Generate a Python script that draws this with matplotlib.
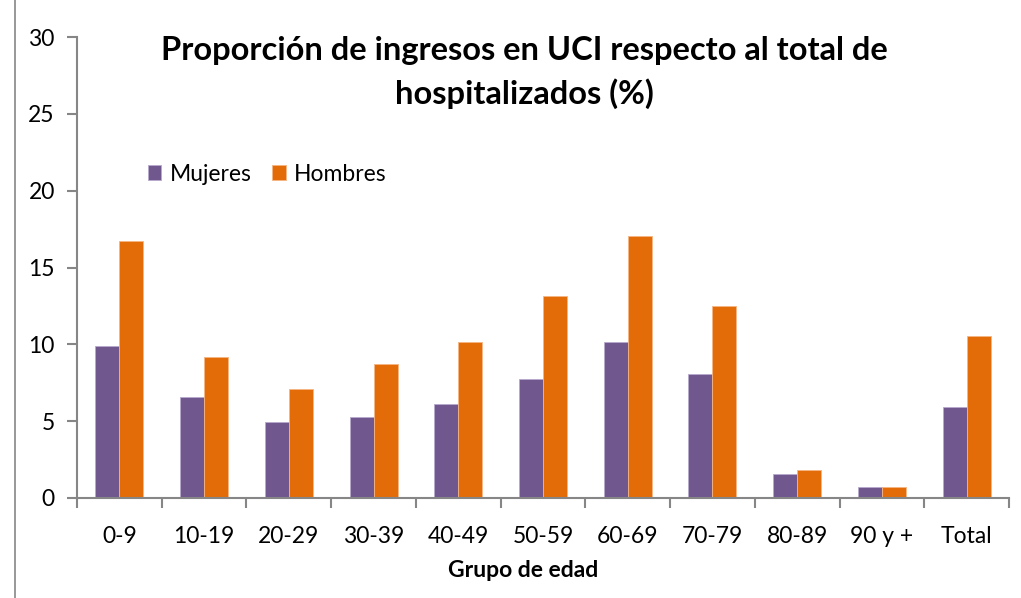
import matplotlib
matplotlib.use("Agg")
import matplotlib.pyplot as plt
import numpy as np
from matplotlib.lines import Line2D

categories = ["0-9", "10-19", "20-29", "30-39", "40-49", "50-59", "60-69", "70-79", "80-89", "90 y +", "Total"]
mujeres = [9.86, 6.59, 4.96, 5.27, 6.11, 7.74, 10.18, 8.06, 1.54, 0.71, 5.94]
hombres = [16.73, 9.19, 7.09, 8.71, 10.16, 13.13, 17.05, 12.48, 1.84, 0.71, 10.51]
yticks = [0, 5, 10, 15, 20, 25, 30]

plt.rcParams['font.family'] = ['Lato', 'DejaVu Sans']

fig = plt.figure(figsize=(10.21, 5.98), dpi=100)
ax = fig.add_axes([77/1021, 1-498/598, (1009-77)/1021, (498-37)/598])

x = np.arange(len(categories))
w = 0.283
purple = "#70588F"
orange = "#E36C09"
ax.bar(x - w/2, mujeres, w, color=purple, edgecolor="#B8A9CC", linewidth=0.6, label="Mujeres")
ax.bar(x + w/2, hombres, w, color=orange, edgecolor="#F5B583", linewidth=0.6, label="Hombres")

ax.set_xlim(-0.5, len(categories) - 0.5)
ax.set_ylim(0, 30)
ax.set_yticks(yticks)
ax.set_yticklabels([str(t) for t in yticks], fontsize=16.5)
ax.set_xticks(x)
ax.set_xticklabels(categories, fontsize=16.5)
ax.set_xticks(np.arange(-0.5, len(categories)), minor=True)
ax.tick_params(axis='x', which='major', length=0, pad=20)
ax.tick_params(axis='x', which='minor', length=7, width=1.5, color="#868686", direction='out')
ax.tick_params(axis='y', which='major', length=7, width=1.5, color="#868686", pad=9)

for s in ["top", "right"]:
    ax.spines[s].set_visible(False)
for s in ["left", "bottom"]:
    ax.spines[s].set_color("#868686")
    ax.spines[s].set_linewidth(1.5)

ax.set_xlabel("Grupo de edad", fontsize=16.5, fontweight='bold', labelpad=9)
ax.xaxis.set_label_coords((523.5 - 77) / 932, -0.135)
ax.xaxis.label.set_va('top')

fig.text(524/1021, 1-72.5/598, "Proporción de ingresos en UCI respecto al total de\nhospitalizados (%)",
         ha='center', va='center', fontsize=23.5, fontweight='bold', linespacing=1.52)

ax.legend(loc='upper left', bbox_to_anchor=(127/1021, 1-143/598), bbox_transform=fig.transFigure,
          ncol=2, frameon=False, fontsize=16.5, handlelength=0.6, handleheight=0.6,
          columnspacing=0.9, handletextpad=0.35)

fig.add_artist(Line2D([15/1021, 15/1021], [0, 1], transform=fig.transFigure, color="#868686", linewidth=1.2))

fig.savefig("out.png", dpi=100, facecolor="white")
